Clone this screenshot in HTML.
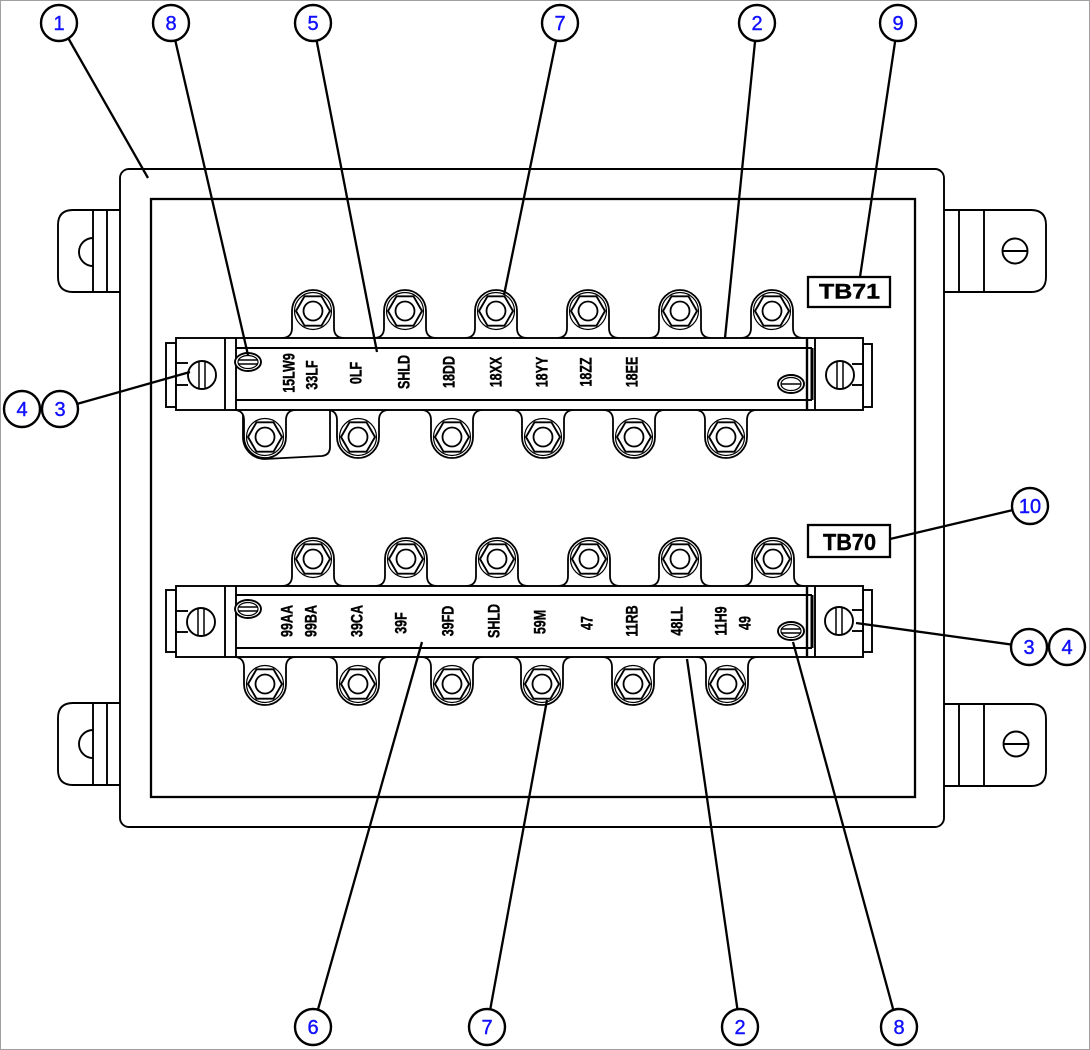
<!DOCTYPE html>
<html><head><meta charset="utf-8"><style>
html,body{margin:0;padding:0;background:#fff;}
svg{display:block;}
</style></head><body>
<svg width="1090" height="1050" viewBox="0 0 1090 1050" xmlns="http://www.w3.org/2000/svg">
<defs>
<g id="tabU">
<path d="M-31,27 C-24,27 -21,23 -21,17 L-21,0 A21,21 0 0 1 21,0 L21,17 C21,23 24,27 31,27" fill="#fff" stroke="#000" stroke-width="1.8"/>
<circle cx="0" cy="0" r="18.5" fill="none" stroke="#000" stroke-width="1.2"/>
<polygon points="-17,0 -8.5,-14.7 8.5,-14.7 17,0 8.5,14.7 -8.5,14.7" fill="#fff" stroke="#000" stroke-width="1.9"/>
<circle cx="0" cy="0" r="9.5" fill="#fff" stroke="#000" stroke-width="1.8"/>
</g>
</defs>
<rect x="0.5" y="0.5" width="1089" height="1049" fill="#fff" stroke="#a0a0a0" stroke-width="1"/>

<!-- mounting tabs -->
<g fill="#fff" stroke="#000" stroke-width="1.9">
<path d="M120,210 L73,210 Q58,210 58,225 L58,277 Q58,292 73,292 L120,292"/>
<path d="M120,703 L73,703 Q58,703 58,718 L58,770 Q58,785 73,785 L120,785"/>
<path d="M944,210 L1031,210 Q1046,210 1046,225 L1046,277 Q1046,292 1031,292 L944,292"/>
<path d="M944,704 L1031,704 Q1046,704 1046,719 L1046,771 Q1046,786 1031,786 L944,786"/>
</g>
<g fill="none" stroke="#000" stroke-width="1.9">
<line x1="93" y1="210" x2="93" y2="292"/><line x1="107" y1="210" x2="107" y2="292"/>
<path d="M93,238 A14,14 0 0 0 93,266"/>
<line x1="93" y1="703" x2="93" y2="785"/><line x1="107" y1="703" x2="107" y2="785"/>
<path d="M93,730 A14,14 0 0 0 93,758"/>
<line x1="959" y1="210" x2="959" y2="292"/><line x1="984" y1="210" x2="984" y2="292"/>
<circle cx="1015" cy="251" r="12.5"/><line x1="1002.5" y1="251" x2="1027.5" y2="251"/>
<line x1="959" y1="704" x2="959" y2="786"/><line x1="984" y1="704" x2="984" y2="786"/>
<circle cx="1016" cy="744" r="12.5"/><line x1="1003.5" y1="744" x2="1028.5" y2="744"/>
</g>

<!-- enclosure -->
<rect x="120" y="169" width="824" height="658" rx="9" fill="#fff" stroke="#000" stroke-width="1.9"/>
<rect x="151" y="199" width="764" height="598" fill="#fff" stroke="#000" stroke-width="2.3"/>

<!-- TOP STRIP terminals -->
<path d="M243,410 L243,437 A22,22 0 0 0 265,459 L322,456 Q330,455 330,447 L330,410" fill="#fff" stroke="#000" stroke-width="1.8"/>
<use href="#tabU" transform="translate(313,311)"/>
<use href="#tabU" transform="translate(405,311)"/>
<use href="#tabU" transform="translate(496,311)"/>
<use href="#tabU" transform="translate(588,311)"/>
<use href="#tabU" transform="translate(680,311)"/>
<use href="#tabU" transform="translate(772,311)"/>
<use href="#tabU" transform="translate(265,437) scale(1,-1)"/>
<use href="#tabU" transform="translate(358,437) scale(1,-1)"/>
<use href="#tabU" transform="translate(452,437) scale(1,-1)"/>
<use href="#tabU" transform="translate(543,437) scale(1,-1)"/>
<use href="#tabU" transform="translate(634,437) scale(1,-1)"/>
<use href="#tabU" transform="translate(726,437) scale(1,-1)"/>

<!-- BOTTOM STRIP terminals -->
<use href="#tabU" transform="translate(313,559)"/>
<use href="#tabU" transform="translate(406,559)"/>
<use href="#tabU" transform="translate(497,559)"/>
<use href="#tabU" transform="translate(589,559)"/>
<use href="#tabU" transform="translate(680,559)"/>
<use href="#tabU" transform="translate(773,559)"/>
<use href="#tabU" transform="translate(265,684) scale(1,-1)"/>
<use href="#tabU" transform="translate(358,684) scale(1,-1)"/>
<use href="#tabU" transform="translate(452,684) scale(1,-1)"/>
<use href="#tabU" transform="translate(542,684) scale(1,-1)"/>
<use href="#tabU" transform="translate(633,684) scale(1,-1)"/>
<use href="#tabU" transform="translate(727,684) scale(1,-1)"/>

<!-- TOP BAR -->
<g stroke="#000" fill="#fff" stroke-width="1.9">
<rect x="166" y="343" width="10" height="64"/>
<rect x="863" y="344" width="9" height="63"/>
<rect x="176" y="338" width="687" height="72"/>
<line x1="225" y1="338" x2="225" y2="410"/>
<line x1="236" y1="338" x2="236" y2="410"/>
<line x1="236" y1="348" x2="812" y2="348"/>
<line x1="236" y1="400" x2="812" y2="400"/>
<line x1="807" y1="338" x2="807" y2="410" stroke-width="2.4"/>
<line x1="815" y1="338" x2="815" y2="410"/>
<line x1="812" y1="348" x2="812" y2="400" stroke-width="3"/>
<line x1="176" y1="363" x2="188" y2="363"/><line x1="176" y1="385" x2="188" y2="385"/>
<line x1="852" y1="364" x2="863" y2="364"/><line x1="852" y1="385" x2="863" y2="385"/>
<circle cx="202" cy="375" r="14"/>
<line x1="199" y1="362" x2="199" y2="388" stroke-width="1.5"/><line x1="205" y1="362" x2="205" y2="388" stroke-width="1.5"/>
<circle cx="840" cy="375" r="14"/>
<line x1="837" y1="362" x2="837" y2="388" stroke-width="1.5"/><line x1="843" y1="362" x2="843" y2="388" stroke-width="1.5"/>
<ellipse cx="248" cy="362" rx="13" ry="9"/>
<ellipse cx="248" cy="362" rx="10" ry="6.5" fill="none" stroke-width="1.2"/>
<line x1="238" y1="360" x2="258" y2="360" stroke-width="1.4"/><line x1="238" y1="364" x2="258" y2="364" stroke-width="1.4"/>
<ellipse cx="791" cy="384" rx="13" ry="9"/>
<ellipse cx="791" cy="384" rx="10" ry="6.5" fill="none" stroke-width="1.2"/>
<line x1="781" y1="384" x2="801" y2="384" stroke-width="1.5"/>
</g>

<!-- BOTTOM BAR -->
<g stroke="#000" fill="#fff" stroke-width="1.9">
<rect x="166" y="590" width="10" height="62"/>
<rect x="863" y="590" width="9" height="62"/>
<rect x="176" y="586" width="687" height="71"/>
<line x1="225" y1="586" x2="225" y2="657"/>
<line x1="236" y1="586" x2="236" y2="657"/>
<line x1="236" y1="595" x2="812" y2="595"/>
<line x1="236" y1="648" x2="812" y2="648"/>
<line x1="807" y1="586" x2="807" y2="657" stroke-width="2.4"/>
<line x1="815" y1="586" x2="815" y2="657"/>
<line x1="812" y1="595" x2="812" y2="648" stroke-width="3"/>
<line x1="176" y1="611" x2="188" y2="611"/><line x1="176" y1="632" x2="188" y2="632"/>
<line x1="852" y1="610" x2="863" y2="610"/><line x1="852" y1="631" x2="863" y2="631"/>
<circle cx="201" cy="622" r="14"/>
<line x1="198" y1="609" x2="198" y2="635" stroke-width="1.5"/><line x1="204" y1="609" x2="204" y2="635" stroke-width="1.5"/>
<circle cx="839" cy="621" r="14"/>
<line x1="836" y1="608" x2="836" y2="634" stroke-width="1.5"/><line x1="842" y1="608" x2="842" y2="634" stroke-width="1.5"/>
<ellipse cx="248" cy="609" rx="13" ry="9"/>
<ellipse cx="248" cy="609" rx="10" ry="6.5" fill="none" stroke-width="1.2"/>
<line x1="238" y1="607" x2="258" y2="607" stroke-width="1.4"/><line x1="238" y1="611" x2="258" y2="611" stroke-width="1.4"/>
<ellipse cx="791" cy="631" rx="13" ry="9"/>
<ellipse cx="791" cy="631" rx="10" ry="6.5" fill="none" stroke-width="1.2"/>
<line x1="781" y1="629" x2="801" y2="629" stroke-width="1.4"/><line x1="781" y1="633" x2="801" y2="633" stroke-width="1.4"/>
</g>

<!-- strip labels -->
<g font-family="Liberation Sans, sans-serif" font-weight="bold" font-size="12.5" fill="#000" text-anchor="middle" dominant-baseline="central" stroke="#000" stroke-width="0.3">
<text transform="translate(290,373) rotate(-90) scale(1,1.3)">15LW9</text>
<text transform="translate(313,375) rotate(-90) scale(1,1.3)">33LF</text>
<text transform="translate(357,373) rotate(-90) scale(1,1.3)">0LF</text>
<text transform="translate(405,372) rotate(-90) scale(1,1.3)">SHLD</text>
<text transform="translate(450,372) rotate(-90) scale(1,1.3)">18DD</text>
<text transform="translate(497,372) rotate(-90) scale(1,1.3)">18XX</text>
<text transform="translate(543,372) rotate(-90) scale(1,1.3)">18YY</text>
<text transform="translate(587,372) rotate(-90) scale(1,1.3)">18ZZ</text>
<text transform="translate(633,372) rotate(-90) scale(1,1.3)">18EE</text>

<text transform="translate(288,621) rotate(-90) scale(1,1.3)">99AA</text>
<text transform="translate(312,621) rotate(-90) scale(1,1.3)">99BA</text>
<text transform="translate(358,621) rotate(-90) scale(1,1.3)">39CA</text>
<text transform="translate(402,623) rotate(-90) scale(1,1.3)">39F</text>
<text transform="translate(449,621) rotate(-90) scale(1,1.3)">39FD</text>
<text transform="translate(495,621) rotate(-90) scale(1,1.3)">SHLD</text>
<text transform="translate(541,622) rotate(-90) scale(1,1.3)">59M</text>
<text transform="translate(588,623) rotate(-90) scale(1,1.3)">47</text>
<text transform="translate(633,621) rotate(-90) scale(1,1.3)">11RB</text>
<text transform="translate(678,621) rotate(-90) scale(1,1.3)">48LL</text>
<text transform="translate(722,621) rotate(-90) scale(1,1.3)">11H9</text>
<text transform="translate(746,623) rotate(-90) scale(1,1.3)">49</text>
</g>

<!-- TB labels -->
<rect x="808" y="277" width="82" height="30" fill="#fff" stroke="#000" stroke-width="2.3"/>
<text x="819" y="298.5" font-family="Liberation Sans, sans-serif" font-weight="bold" font-size="21" textLength="61" lengthAdjust="spacingAndGlyphs" stroke="#000" stroke-width="0.4">TB71</text>
<rect x="808" y="525" width="82" height="32" fill="#fff" stroke="#000" stroke-width="2.3"/>
<text x="823" y="550" font-family="Liberation Sans, sans-serif" font-weight="bold" font-size="23" textLength="53" lengthAdjust="spacingAndGlyphs" stroke="#000" stroke-width="0.4">TB70</text>

<!-- leader lines -->
<g stroke="#000" stroke-width="2.3" fill="none">
<line x1="59" y1="22" x2="148" y2="178"/>
<line x1="171" y1="22" x2="248" y2="355"/>
<line x1="313" y1="22" x2="377" y2="352"/>
<line x1="560" y1="22" x2="504" y2="295"/>
<line x1="757" y1="22" x2="725" y2="338"/>
<line x1="898" y1="22" x2="860" y2="277"/>
<line x1="59" y1="409" x2="190" y2="372"/>
<line x1="1030" y1="506" x2="890" y2="539"/>
<line x1="1029" y1="647" x2="856" y2="623"/>
<line x1="313" y1="1027" x2="422" y2="642"/>
<line x1="487" y1="1027" x2="547" y2="700"/>
<line x1="740" y1="1027" x2="687" y2="659"/>
<line x1="898" y1="1027" x2="793" y2="642"/>
</g>

<!-- callout circles -->
<g stroke="#000" stroke-width="2.4" fill="#fff">
<circle cx="59" cy="23" r="18"/>
<circle cx="171" cy="23" r="18"/>
<circle cx="313" cy="23" r="18"/>
<circle cx="560" cy="23" r="18"/>
<circle cx="757" cy="23" r="18"/>
<circle cx="898" cy="23" r="18"/>
<circle cx="22" cy="409" r="18"/>
<circle cx="60" cy="409" r="18"/>
<circle cx="1030" cy="506" r="18"/>
<circle cx="1029" cy="647" r="18"/>
<circle cx="1067" cy="647" r="18"/>
<circle cx="313" cy="1027" r="18"/>
<circle cx="487" cy="1027" r="18"/>
<circle cx="740" cy="1027" r="18"/>
<circle cx="899" cy="1027" r="18"/>
</g>
<g font-family="Liberation Sans, sans-serif" font-size="20" fill="#1010ff" text-anchor="middle" stroke="#1010ff" stroke-width="0.4">
<text x="59" y="30">1</text>
<text x="171" y="30">8</text>
<text x="313" y="30">5</text>
<text x="560" y="30">7</text>
<text x="757" y="30">2</text>
<text x="898" y="30">9</text>
<text x="22" y="416">4</text>
<text x="60" y="416">3</text>
<text x="1030" y="513">10</text>
<text x="1029" y="654">3</text>
<text x="1067" y="654">4</text>
<text x="313" y="1034">6</text>
<text x="487" y="1034">7</text>
<text x="740" y="1034">2</text>
<text x="899" y="1034">8</text>
</g>
</svg>
</body></html>
